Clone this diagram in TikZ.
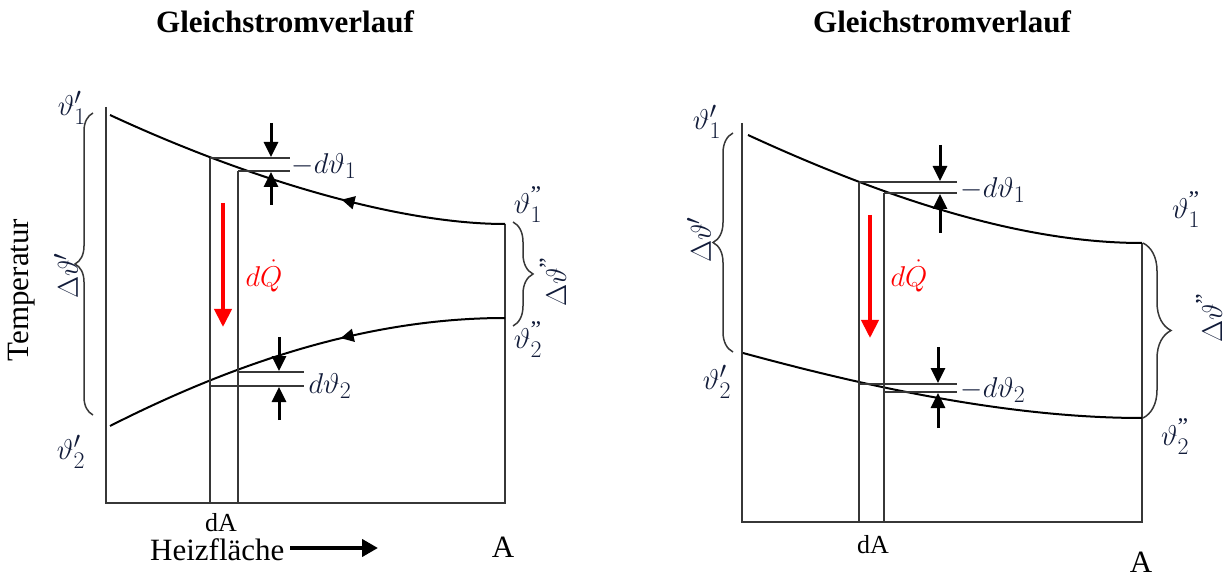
\documentclass[tikz,border=0pt]{standalone}
\usepackage{fontspec}
\setmainfont{Liberation Serif}
\usepackage{amsmath}
\usepackage{graphicx}
\usetikzlibrary{arrows.meta,decorations.pathreplacing,decorations.markings}
\definecolor{mathblue}{RGB}{18,28,58}
\definecolor{axisgray}{RGB}{55,55,55}
\newcommand{\mlb}[1]{\scalebox{1.15}{$#1$}}
\begin{document}
\begin{tikzpicture}[x=1pt,y=-1pt,
 axis/.style={line width=1.5pt,draw=axisgray},
 curve/.style={line width=2pt,draw=black},
 blkarrow/.style={line width=3pt,draw=black,-{Triangle[width=14pt,length=15pt]}},
 redarrow/.style={line width=4pt,draw=red,-{Triangle[width=17pt,length=18pt]}},
 brc/.style={decorate,decoration={brace,amplitude=#1},line width=1.5pt,draw=axisgray},
 mlab/.style={text=mathblue,font=\Huge,inner sep=0pt},
 qlab/.style={text=red,font=\Huge,inner sep=0pt},
 tlab/.style={font=\fontsize{31}{36}\selectfont,inner sep=0pt},
 dalab/.style={font=\fontsize{26}{30}\selectfont,inner sep=0pt},
 ttl/.style={font=\fontsize{31}{36}\selectfont\bfseries,inner sep=0pt},
 flowmark/.style={postaction={decorate},decoration={markings,mark=at position #1 with {\arrow{Triangle[reversed,width=13pt,length=13pt]}}}}]
\useasboundingbox (0,0) rectangle (1229,577);

% ================= LEFT DIAGRAM =================
\node[ttl,anchor=base] (t1) at (285,33) {Gleichstromverlauf};

\coordinate (La0) at (106,107);
\coordinate (La1) at (106,503);
\coordinate (La2) at (505,503);
\coordinate (La3) at (505,224);
\draw[axis] (La0) -- (La1) -- (La2) -- (La3);

% curves
\coordinate (Lu0) at (110,115);
\coordinate (Lu1) at (505,224);
\draw[curve,flowmark=0.63] (Lu0) .. controls (250,180) and (400,224) .. (Lu1);
\coordinate (Ll0) at (110,426);
\coordinate (Ll1) at (505,318);
\draw[curve,flowmark=0.63] (Ll0) .. controls (250,355) and (380,318) .. (Ll1);

% strip dA
\coordinate (Ls1) at (210,158);
\coordinate (Ls2) at (238,171);
\coordinate (Ls1b) at (210,503);
\coordinate (Ls2b) at (238,503);
\draw[axis] (Ls1) -- (Ls1b);
\draw[axis] (Ls2) -- (Ls2b);

% upper d-theta lines
\coordinate (Lh1e) at (290,158);
\coordinate (Lh2e) at (290,171);
\draw[axis] (Ls1) -- (Lh1e);
\draw[axis] (Ls2) -- (Lh2e);
\coordinate (Lar1s) at (271,123);
\coordinate (Lar1e) at (271,157);
\coordinate (Lar2s) at (271,205);
\coordinate (Lar2e) at (271,172);
\draw[blkarrow] (Lar1s) -- (Lar1e);
\draw[blkarrow] (Lar2s) -- (Lar2e);
\node[mlab] (Ldt1) at (324,166) {\mlb{-d\vartheta_1}};

% lower d-theta lines
\coordinate (Lg1s) at (238,372);
\coordinate (Lg1e) at (304,372);
\coordinate (Lg2s) at (210,386);
\coordinate (Lg2e) at (304,386);
\draw[axis] (Lg1s) -- (Lg1e);
\draw[axis] (Lg2s) -- (Lg2e);
\coordinate (Lbr1s) at (279,337);
\coordinate (Lbr1e) at (279,371);
\coordinate (Lbr2s) at (279,420);
\coordinate (Lbr2e) at (279,387);
\draw[blkarrow] (Lbr1s) -- (Lbr1e);
\draw[blkarrow] (Lbr2s) -- (Lbr2e);
\node[mlab] (Ldt2) at (330,386) {\mlb{d\vartheta_2}};

% heat flow
\coordinate (Lq0) at (223,203);
\coordinate (Lq1) at (223,327);
\draw[redarrow] (Lq0) -- (Lq1);
\node[qlab] (LdQ) at (264,276) {\mlb{d\dot{Q}}};

% braces
\coordinate (Lb0) at (93,415);
\coordinate (Lb1) at (93,113);
\draw[brc=18pt] (Lb0) -- (Lb1);
\node[mlab,rotate=90] (LDel1) at (66,276) {\mlb{\Delta\vartheta'}};
\coordinate (Lc0) at (513,222);
\coordinate (Lc1) at (513,326);
\draw[brc=20pt] (Lc0) -- (Lc1);
\node[mlab,rotate=90] (LDel2) at (553,282) {\mlb{\Delta\vartheta^{\textnormal{"}}}};

% theta labels
\node[mlab] (Lth1a) at (72,108) {\mlb{\vartheta_1'}};
\node[mlab] (Lth2a) at (71,452) {\mlb{\vartheta_2'}};
\node[mlab] (Lth1b) at (528,205) {\mlb{\vartheta_1^{\textnormal{"}}}};
\node[mlab] (Lth2b) at (528,340) {\mlb{\vartheta_2^{\textnormal{"}}}};

% axis texts
\node[tlab,rotate=90] (Ltemp) at (22,290) {Temperatur};
\node[dalab,anchor=base] (LdA) at (221,531) {dA};
\node[tlab,anchor=base west] (Lheiz) at (150,560) {Heizfläche};
\coordinate (Lha0) at (290,548);
\coordinate (Lha1) at (378,548);
\draw[line width=4pt,-{Triangle[width=17pt,length=16pt]}] (Lha0) -- (Lha1);
\node[tlab,anchor=base] (LA) at (503,557) {A};

% ================= RIGHT DIAGRAM =================
\node[ttl,anchor=base] (t2) at (942,33) {Gleichstromverlauf};

\coordinate (Ra0) at (742,123);
\coordinate (Ra1) at (742,522);
\coordinate (Ra2) at (1142,522);
\coordinate (Ra3) at (1142,243);
\draw[axis] (Ra0) -- (Ra1) -- (Ra2) -- (Ra3);

\coordinate (Ru0) at (748,135);
\coordinate (Ru1) at (1142,243);
\draw[curve] (Ru0) .. controls (900,205) and (1030,243) .. (Ru1);
\coordinate (Rl0) at (743,353);
\coordinate (Rl1) at (1142,418);
\draw[curve] (Rl0) .. controls (850,382) and (1000,418) .. (Rl1);

% strip
\coordinate (Rs1) at (859,182);
\coordinate (Rs2) at (884,193);
\coordinate (Rs1b) at (859,522);
\coordinate (Rs2b) at (884,522);
\draw[axis] (Rs1) -- (Rs1b);
\draw[axis] (Rs2) -- (Rs2b);

% upper
\coordinate (Rh1e) at (957,182);
\coordinate (Rh2e) at (957,193);
\draw[axis] (Rs1) -- (Rh1e);
\draw[axis] (Rs2) -- (Rh2e);
\coordinate (Rar1s) at (940,145);
\coordinate (Rar1e) at (940,181);
\coordinate (Rar2s) at (940,233);
\coordinate (Rar2e) at (940,194);
\draw[blkarrow] (Rar1s) -- (Rar1e);
\draw[blkarrow] (Rar2s) -- (Rar2e);
\node[mlab] (Rdt1) at (993,190) {\mlb{-d\vartheta_1}};

% lower
\coordinate (Rg1s) at (859,384);
\coordinate (Rg1e) at (957,384);
\coordinate (Rg2s) at (884,392);
\coordinate (Rg2e) at (957,392);
\draw[axis] (Rg1s) -- (Rg1e);
\draw[axis] (Rg2s) -- (Rg2e);
\coordinate (Rbr1s) at (938,347);
\coordinate (Rbr1e) at (938,383);
\coordinate (Rbr2s) at (938,428);
\coordinate (Rbr2e) at (938,393);
\draw[blkarrow] (Rbr1s) -- (Rbr1e);
\draw[blkarrow] (Rbr2s) -- (Rbr2e);
\node[mlab] (Rdt2) at (993,390) {\mlb{-d\vartheta_2}};

% heat flow
\coordinate (Rq0) at (870,215);
\coordinate (Rq1) at (870,338);
\draw[redarrow] (Rq0) -- (Rq1);
\node[qlab] (RdQ) at (909,276) {\mlb{d\dot{Q}}};

% braces
\coordinate (Rb0) at (733,352);
\coordinate (Rb1) at (733,133);
\draw[brc=20pt] (Rb0) -- (Rb1);
\node[mlab,rotate=90] (RDel1) at (699,240) {\mlb{\Delta\vartheta'}};
\coordinate (Rc0) at (1143,243);
\coordinate (Rc1) at (1143,418);
\draw[brc=28pt] (Rc0) -- (Rc1);
\node[mlab,rotate=90] (RDel2) at (1209,318) {\mlb{\Delta\vartheta^{\textnormal{"}}}};

% theta labels
\node[mlab] (Rth1a) at (707,122) {\mlb{\vartheta_1'}};
\node[mlab] (Rth2a) at (717,382) {\mlb{\vartheta_2'}};
\node[mlab] (Rth1b) at (1186,210) {\mlb{\vartheta_1^{\textnormal{"}}}};
\node[mlab] (Rth2b) at (1175,437) {\mlb{\vartheta_2^{\textnormal{"}}}};

\node[dalab,anchor=base] (RdA) at (873,553) {dA};
\node[tlab,anchor=base] (RA) at (1141,572) {A};
\end{tikzpicture}
\end{document}
